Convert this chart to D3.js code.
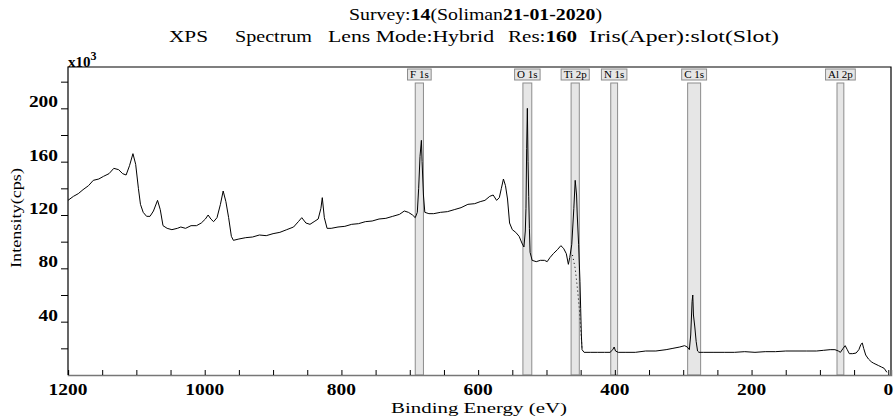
<!DOCTYPE html>
<html>
<head>
<meta charset="utf-8">
<script src="https://cdn.jsdelivr.net/npm/d3@7"></script>
<style>
  body { margin: 0; background: #fff; }
  text { font-family: "Liberation Serif", "DejaVu Serif", serif; fill: #000; }
</style>
</head>
<body>
<div id="chart"></div>
<script>
// spectrum: binding energy (eV) and intensity (x10^3 cps)
var bindingEnergy = [1200,1192,1185,1178,1170,1163,1155,1148,1140,1133,1126,1120,1115,1110,1105,1101,1097,1094,1090,1085,
  1080,1075,1069,1065,1061,1055,1048,1040,1035,1028,1020,1012,1005,999,995,991,987,982,977,973,
  969,965,961,958,950,940,930,920,910,900,890,880,870,863,858,852,846,840,834,830,
  828,825,821,815,805,795,785,775,765,755,745,735,725,715,708,702,696,692,689,687,
  685,683,682,680,678,672,665,655,645,635,625,615,605,597,590,583,578,573,569,566,
  563,560,557,554,550,545,540,536,533,531,530,529,528,527,526,525,524,521,515,509,
  503,499,495,490,484,479,475,471,468,466,463,460,458,456,455,453,451,450,449,448,
  445,436,425,415,407,403,401,399,395,385,370,355,340,325,315,305,298,294,291,289,
  287,286,285,283,281,279,277,270,255,240,225,210,195,180,165,150,135,120,105,95,
  85,78,73,70,66,63,60,57,52,47,43,40,38,36,33,29,25,22,18,14,10,6,2];
var intensity = [131,134,136,139,142,146,147,149,151,155,154,151,150,157,166,158,140,128,122,119,
  119,123,131,124,112,110,109,110,111,110,112,112,114,117,120,117,115,118,128,138,
  130,118,104,101,102,103,103.5,105,104.5,106,107,109,111,115,118,114,113,115,117,125,
  133,118,110,110,111,111.5,113,113.5,115,115.5,117,117.5,119,120.5,123,122,120,118,122,140,
  164,176,160,135,122,121,121,122,122.5,124,125.5,128,128.5,130,131,134,135,131,133,140,
  147,142,132,114,109,107,104,99,96,108,125,170,200,160,134,110,92,86,85,86,
  86,85,88,91,94,97,95,91,83,88,98,125,146,135,120,98,70,50,30,19,
  17,17,17,17,17,19,21,18,17,17,17,18,18,19,20,21,22,21,19,30,
  55,60,45,36,25,18,17,17,17,17,17,17.5,17,17.5,17.5,18,18,18,18,18.5,
  19,19,18,17,20,22,19,16,16,16.5,19,23,24,20,15,12,10,9,8,7,6,5,2];

// Ti 2p background (dotted) under the peak
var bgEnergy = [462, 458, 455, 452, 450, 448];
var bgIntensity = [90, 80, 66, 50, 35, 20];

// peak identification regions
var peakLabels = ["F 1s", "O 1s", "Ti 2p", "N 1s", "C 1s", "Al 2p"];
var peakCenters = [686, 528, 458, 401, 284, 70];
var peakHalfWidths = [6, 6.5, 6, 5, 9.5, 5];

var xTicks = [1200, 1000, 800, 600, 400, 200, 0];
var yTicks = [40, 80, 120, 160, 200];

var margin = { top: 67, right: 3, bottom: 41, left: 68 },
  width = 894 - margin.left - margin.right,
  height = 416 - margin.top - margin.bottom;

var x = d3.scaleLinear().domain([1200, -4]).range([0, width]);
var y = d3.scaleLinear().domain([0, 231]).range([height, 0]);

var root = d3.select("#chart").append("svg")
  .attr("width", 894)
  .attr("height", 416);

var svg = root.append("g")
  .attr("transform", "translate(" + margin.left + "," + margin.top + ")");

// peak region boxes
var boxTop = 16;
peakLabels.forEach(function (lab, i) {
  var x0 = x(peakCenters[i] + peakHalfWidths[i]),
    x1 = x(peakCenters[i] - peakHalfWidths[i]);
  svg.append("rect")
    .attr("x", x0).attr("y", boxTop)
    .attr("width", x1 - x0).attr("height", height - boxTop)
    .attr("fill", "#e6e6e6").attr("stroke", "#8c8c8c").attr("stroke-width", 1);
  var cx = (x0 + x1) / 2;
  var t = svg.append("text")
    .attr("x", cx).attr("y", 11)
    .attr("text-anchor", "middle")
    .style("font-size", "11px")
    .text(lab);
  var w = t.node().getComputedTextLength() + 5;
  svg.insert("rect", "text")
    .attr("x", cx - w / 2).attr("y", 2)
    .attr("width", w).attr("height", 11)
    .attr("fill", "#e6e6e6").attr("stroke", "#8c8c8c").attr("stroke-width", 1);
});

// spectrum
var spectrum = bindingEnergy.map(function (d, i) { return [d, intensity[i]]; });
var line = d3.line()
  .x(function (d) { return x(d[0]); })
  .y(function (d) { return y(d[1]); });

svg.append("path")
  .datum(spectrum)
  .attr("d", line)
  .attr("fill", "none")
  .attr("stroke", "#000")
  .attr("stroke-width", 1);

svg.append("path")
  .datum(bgEnergy.map(function (d, i) { return [d, bgIntensity[i]]; }))
  .attr("d", line)
  .attr("fill", "none")
  .attr("stroke", "#000")
  .attr("stroke-width", 1)
  .attr("stroke-dasharray", "1,3");

// frame
svg.append("path")
  .attr("d", "M0," + height + "V0H" + width + "V" + height)
  .attr("fill", "none").attr("stroke", "#000").attr("stroke-width", 1.2);

// x axis: ticks point up into the plot
var xAxis = svg.append("g")
  .attr("transform", "translate(0," + height + ")")
  .call(d3.axisBottom(x).tickValues(d3.range(1200, -1, -50)).tickSize(-5).tickFormat(""));
xAxis.select(".domain").attr("stroke", "#777").attr("stroke-width", 1.5);
xAxis.selectAll(".tick line").attr("stroke", "#000");

svg.append("g").selectAll("text")
  .data(xTicks).enter().append("text")
  .attr("x", function (d) { return x(d); })
  .attr("y", height + 20)
  .attr("text-anchor", "middle")
  .attr("textLength", function (d) { return String(d).length * 9.7; })
  .attr("lengthAdjust", "spacingAndGlyphs")
  .style("font-size", "16px").style("font-weight", "bold")
  .text(function (d) { return d; });

// y axis: ticks point outward
var yAxis = svg.append("g")
  .call(d3.axisLeft(y).tickValues(d3.range(20, 231, 20)).tickSize(7).tickFormat(""));
yAxis.select(".domain").remove();
yAxis.selectAll(".tick line").attr("stroke", "#000");

svg.append("g").selectAll("text")
  .data(yTicks).enter().append("text")
  .attr("x", -10)
  .attr("y", function (d) { return y(d) - 1; })
  .attr("text-anchor", "end")
  .attr("textLength", function (d) { return String(d).length * 9.7; })
  .attr("lengthAdjust", "spacingAndGlyphs")
  .style("font-size", "16px").style("font-weight", "bold")
  .text(function (d) { return d; });

// x10^3
var mult = root.append("text").attr("x", 68).attr("y", 67).style("font-size", "15px").style("font-weight", "bold");
mult.append("tspan").text("x10");
mult.append("tspan").attr("dy", -7).style("font-size", "12px").text("3");

// axis titles
root.append("text")
  .attr("x", 479).attr("y", 413)
  .attr("text-anchor", "middle")
  .attr("textLength", 176)
  .attr("lengthAdjust", "spacingAndGlyphs")
  .style("font-size", "15px")
  .text("Binding Energy (eV)");

root.append("text")
  .attr("transform", "translate(21,218) rotate(-90)")
  .attr("text-anchor", "middle")
  .attr("textLength", 100)
  .attr("lengthAdjust", "spacingAndGlyphs")
  .style("font-size", "15px")
  .text("Intensity(cps)");

// title
var t1 = root.append("text").attr("x", 349).attr("y", 20)
  .attr("textLength", 253).attr("lengthAdjust", "spacingAndGlyphs")
  .style("font-size", "16px");
t1.append("tspan").text("Survey:");
t1.append("tspan").style("font-weight", "bold").text("14");
t1.append("tspan").text("(Soliman");
t1.append("tspan").style("font-weight", "bold").text("21-01-2020");
t1.append("tspan").text(")");

var titleParts = ["XPS", "Spectrum", "Lens Mode:Hybrid", "Res:", "Iris(Aper):slot(Slot)"];
var titleStarts = [169, 235, 328, 508, 589];
var titleWidths = [39, 77, 166, 69, 190];
titleParts.forEach(function (p, i) {
  var t = root.append("text").attr("x", titleStarts[i]).attr("y", 42)
    .attr("textLength", titleWidths[i]).attr("lengthAdjust", "spacingAndGlyphs")
    .style("font-size", "16px").text(p);
  if (p === "Res:") t.append("tspan").style("font-weight", "bold").text("160");
});
</script>
</body>
</html>
